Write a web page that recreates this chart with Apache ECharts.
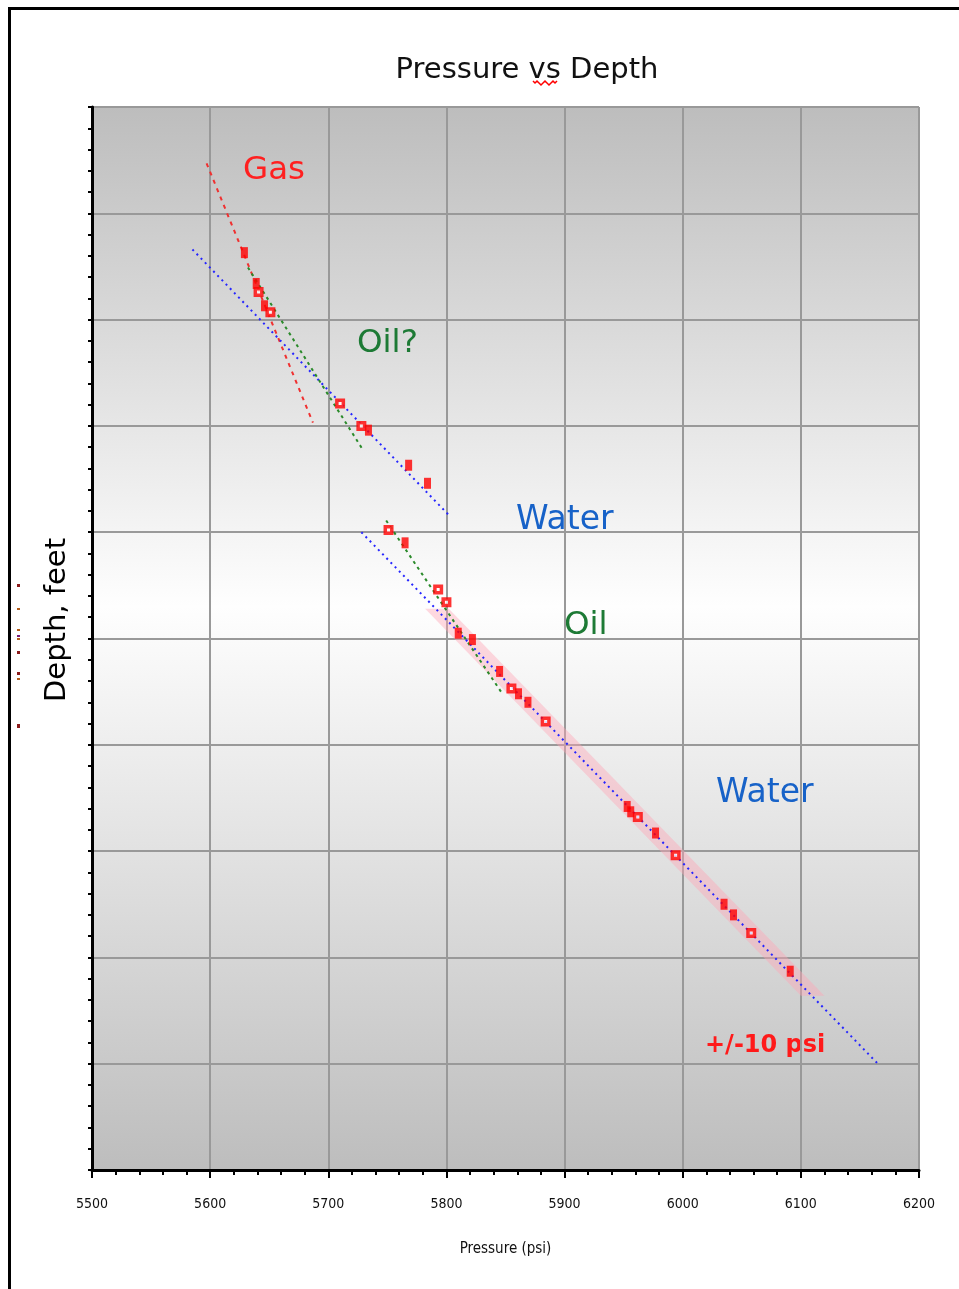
<!DOCTYPE html>
<html>
<head>
<meta charset="utf-8">
<title>Pressure vs Depth</title>
<script src="https://cdn.jsdelivr.net/npm/echarts@6/dist/echarts.min.js"></script>
<style>
  html, body { margin: 0; padding: 0; background: #ffffff; }
  #chart { width: 959px; height: 1289px; }
</style>
</head>
<body>
<div id="chart"></div>
<script>
// Pressure axis (psi) and depth axis (feet, increasing downward)
const pressureTicks = [5500, 5600, 5700, 5800, 5900, 6000, 6100, 6200];
const depthRange = [8000, 9000];

// Formation pressure readings [pressure psi, depth ft]
const hollowPoints = [
  [5641, 8174], [5651, 8193], [5710, 8279], [5728, 8300],
  [5751, 8398], [5793, 8454], [5800, 8466], [5855, 8547],
  [5884, 8578], [5962, 8668], [5994, 8704], [6058, 8777]
];
const solidPoints = [
  [5629, 8137], [5639, 8166], [5646, 8187], [5734, 8304],
  [5768, 8337], [5784, 8354], [5765, 8410], [5810, 8495],
  [5822, 8501], [5845, 8531], [5861, 8552], [5869, 8560],
  [5953, 8658], [5956, 8663], [5977, 8683], [6035, 8750],
  [6043, 8760], [6091, 8813]
];

// Fluid gradient lines [pressure, depth] end points
const gasGradient = [[5597, 8053], [5687, 8297]];
const upperWaterGradient = [[5585, 8134], [5803, 8385]];
const upperOilGradient = [[5632, 8151], [5729, 8322]];
const lowerOilGradient = [[5749, 8389], [5848, 8553]];
const lowerWaterGradient = [[5728, 8400], [6166, 8901]];

// Tolerance band around the lower water gradient
const bandCenter = [[5792, 8472], [6110, 8836]];
const bandHalfWidth = 10; // psi

const chart = echarts.init(document.getElementById('chart'));

const lineSeries = (data, color, dash) => ({
  type: 'line',
  data: data,
  showSymbol: false,
  symbol: 'none',
  silent: true,
  z: 3,
  lineStyle: { color: color, width: 2, type: dash }
});

const option = {
  animation: false,
  backgroundColor: '#ffffff',
  grid: {
    left: 92, top: 107, right: 40, bottom: 119,
    show: true,
    borderWidth: 0,
    backgroundColor: new echarts.graphic.LinearGradient(0, 0, 0, 1, [
      { offset: 0, color: '#bdbdbd' },
      { offset: 0.47, color: '#fefefe' },
      { offset: 1, color: '#bdbdbd' }
    ])
  },
  xAxis: {
    type: 'value',
    min: pressureTicks[0],
    max: pressureTicks[pressureTicks.length - 1],
    interval: 100,
    name: 'Pressure (psi)',
    nameLocation: 'middle',
    nameGap: 72,
    nameTextStyle: { fontFamily: "'DejaVu Sans Condensed', 'Liberation Sans', sans-serif",
                     fontSize: 15, color: '#111' },
    axisLine: { show: true, onZero: false, lineStyle: { color: '#000', width: 3 } },
    axisTick: { show: true, length: 8, lineStyle: { color: '#000', width: 2 } },
    minorTick: { show: true, splitNumber: 5, length: 5, lineStyle: { color: '#000', width: 2 } },
    splitLine: { show: true, lineStyle: { color: '#999999', width: 2 } },
    axisLabel: {
      margin: 27,
      fontFamily: "'DejaVu Sans Condensed', 'Liberation Sans', sans-serif",
      fontSize: 14,
      color: '#111',
      formatter: v => String(v)
    }
  },
  yAxis: {
    type: 'value',
    inverse: true,
    min: depthRange[0],
    max: depthRange[1],
    interval: 100,
    axisLine: { show: true, lineStyle: { color: '#000', width: 3 } },
    axisTick: { show: true, length: 4, lineStyle: { color: '#000', width: 2 } },
    minorTick: { show: true, splitNumber: 5, length: 4, lineStyle: { color: '#000', width: 2 } },
    splitLine: { show: true, lineStyle: { color: '#999999', width: 2 } },
    axisLabel: { show: false }
  },
  series: [
    {
      type: 'custom',
      silent: true,
      z: 2,
      data: [[bandCenter[0][0], bandCenter[0][1], bandCenter[1][0], bandCenter[1][1]]],
      encode: { x: [0, 2], y: [1, 3] },
      renderItem: function (params, api) {
        const p1 = api.value(0), d1 = api.value(1), p2 = api.value(2), d2 = api.value(3);
        const pts = [
          api.coord([p1 - bandHalfWidth, d1]),
          api.coord([p1 + bandHalfWidth, d1]),
          api.coord([p2 + bandHalfWidth, d2]),
          api.coord([p2 - bandHalfWidth, d2])
        ];
        return {
          type: 'polygon',
          shape: { points: pts },
          style: { fill: 'rgba(255, 165, 180, 0.42)' }
        };
      }
    },
    lineSeries(gasGradient, '#f03030', [4, 5]),
    lineSeries(upperWaterGradient, '#2626ff', [2, 4]),
    lineSeries(upperOilGradient, '#2a8a2a', [3, 4]),
    lineSeries(lowerOilGradient, '#2a8a2a', [3, 4]),
    lineSeries(lowerWaterGradient, '#2626ff', [2, 4]),
    {
      type: 'scatter',
      data: solidPoints,
      symbol: 'rect',
      symbolSize: [7, 11],
      z: 5,
      itemStyle: { color: '#ff0000' }
    },
    {
      type: 'scatter',
      data: hollowPoints,
      symbol: 'rect',
      symbolSize: 6.5,
      z: 6,
      itemStyle: { color: '#ffffff', borderColor: '#ff0000', borderWidth: 3.5 }
    }
  ],
  graphic: [
    // page frame
    {
      type: 'polyline',
      shape: { points: [[9.5, 1289], [9.5, 8.5], [959, 8.5]] },
      style: { stroke: '#000', lineWidth: 3, fill: null },
      silent: true
    },
    {
      type: 'text', x: 527, y: 70,
      style: { text: 'Pressure vs Depth', fontFamily: 'DejaVu Sans', fontSize: 29,
               fill: '#111', align: 'center', verticalAlign: 'middle' }
    },
    // spell-check squiggle under "vs"
    {
      type: 'polyline',
      shape: { points: [[533, 81], [535, 83], [537, 81], [539, 83], [541, 85], [543, 83], [545, 81],
                        [547, 83], [549, 85], [551, 83], [553, 81], [555, 83], [557, 81]] },
      style: { stroke: '#ff0000', lineWidth: 1.5, fill: null }
    },
    // depth axis caption
    {
      type: 'text', x: 57, y: 620, rotation: Math.PI / 2,
      style: { text: 'Depth, feet', fontFamily: 'DejaVu Sans', fontSize: 29, fill: '#000',
               align: 'center', verticalAlign: 'middle' }
    },
    { type: 'text', x: 243, y: 171,
      style: { text: 'Gas', fontFamily: 'DejaVu Sans', fontSize: 32.5, fill: '#ff2020', verticalAlign: 'middle' } },
    { type: 'text', x: 357, y: 344,
      style: { text: 'Oil?', fontFamily: 'DejaVu Sans', fontSize: 32.5, fill: '#1d7a35', verticalAlign: 'middle' } },
    { type: 'text', x: 516, y: 520,
      style: { text: 'Water', fontFamily: 'DejaVu Sans', fontSize: 33, fill: '#1762c8', verticalAlign: 'middle' } },
    { type: 'text', x: 564, y: 626,
      style: { text: 'Oil', fontFamily: 'DejaVu Sans', fontSize: 32.5, fill: '#1d7a35', verticalAlign: 'middle' } },
    { type: 'text', x: 716, y: 793,
      style: { text: 'Water', fontFamily: 'DejaVu Sans', fontSize: 33, fill: '#1762c8', verticalAlign: 'middle' } },
    { type: 'text', x: 705, y: 1046,
      style: { text: '+/-10 psi', fontFamily: 'DejaVu Sans', fontWeight: 'bold', fontSize: 24,
               fill: '#ff1a1a', verticalAlign: 'middle' } },
    // small marks beside the depth caption
    { type: 'rect', shape: { x: 17, y: 584, width: 3, height: 3 }, style: { fill: '#8b1a1a' } },
    { type: 'rect', shape: { x: 17, y: 608, width: 3, height: 2 }, style: { fill: '#b35c1a' } },
    { type: 'rect', shape: { x: 17, y: 629, width: 3, height: 2 }, style: { fill: '#b35c1a' } },
    { type: 'rect', shape: { x: 17, y: 635, width: 3, height: 2 }, style: { fill: '#7a1a7a' } },
    { type: 'rect', shape: { x: 17, y: 638, width: 3, height: 2 }, style: { fill: '#b35c1a' } },
    { type: 'rect', shape: { x: 17, y: 651, width: 3, height: 3 }, style: { fill: '#8b1a1a' } },
    { type: 'rect', shape: { x: 17, y: 672, width: 3, height: 3 }, style: { fill: '#8b1a1a' } },
    { type: 'rect', shape: { x: 17, y: 678, width: 3, height: 2 }, style: { fill: '#b35c1a' } },
    { type: 'rect', shape: { x: 17, y: 724, width: 3, height: 4 }, style: { fill: '#8b1a1a' } }
  ]
};

chart.setOption(option);
</script>
</body>
</html>
